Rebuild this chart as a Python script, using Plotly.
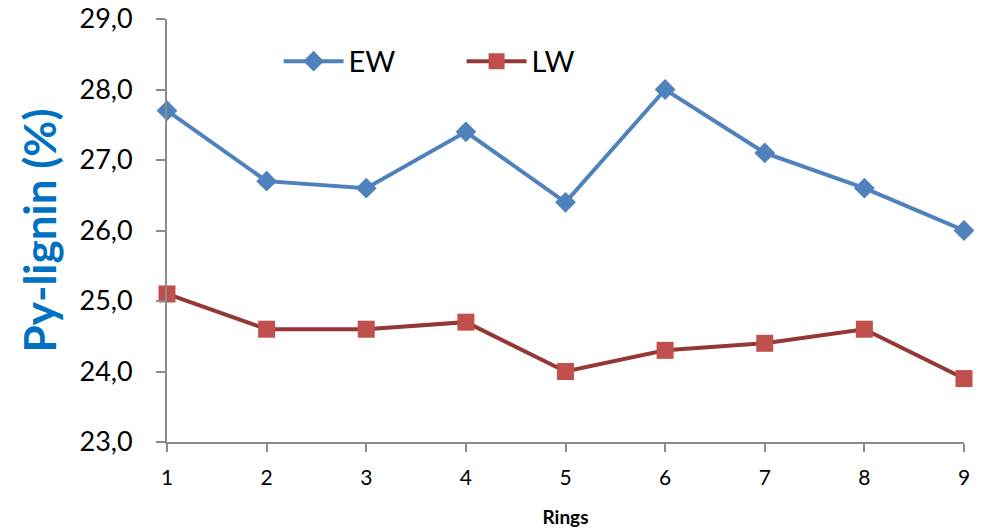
import plotly.graph_objects as go

rings = [1, 2, 3, 4, 5, 6, 7, 8, 9]
ew_values = [27.7, 26.7, 26.6, 27.4, 26.4, 28.0, 27.1, 26.6, 26.0]
lw_values = [25.1, 24.6, 24.6, 24.7, 24.0, 24.3, 24.4, 24.6, 23.9]
y_ticks = [23, 24, 25, 26, 27, 28, 29]
y_tick_labels = ["23,0", "24,0", "25,0", "26,0", "27,0", "28,0", "29,0"]

FONT = "Lato, 'Open Sans', sans-serif"

fig = go.Figure()
fig.add_trace(go.Scatter(
    x=rings, y=ew_values, name="EW", mode="lines+markers",
    line=dict(color="#4F81BD", width=4),
    marker=dict(symbol="diamond", size=16, color="#4F81BD"),
    cliponaxis=False,
))
fig.add_trace(go.Scatter(
    x=rings, y=lw_values, name="LW", mode="lines+markers",
    line=dict(color="#953735", width=4),
    marker=dict(symbol="square", size=17, color="#C0504D"),
    cliponaxis=False,
))

fig.update_layout(
    width=981, height=531,
    margin=dict(l=167, r=17, t=19, b=89, autoexpand=False),
    plot_bgcolor="white", paper_bgcolor="white",
    font=dict(family=FONT, color="black"),
    showlegend=True,
    legend=dict(
        orientation="h", x=0.14, y=0.9, xanchor="left", yanchor="middle",
        font=dict(size=29, family=FONT), bgcolor="rgba(0,0,0,0)",
        itemwidth=60, traceorder="normal",
        entrywidth=108,
    ),
    xaxis=dict(
        range=[1, 9], tickvals=rings, ticktext=[str(r) for r in rings],
        showgrid=False, zeroline=False, showline=True,
        linecolor="#8C8C8C", linewidth=2,
        ticks="outside", ticklen=8, tickcolor="#8C8C8C", tickwidth=2,
        tickfont=dict(size=21, family=FONT), ticklabelstandoff=8,
        title=dict(text="<b>Rings</b>", font=dict(size=19, family=FONT), standoff=22),
    ),
    yaxis=dict(
        range=[23, 29], tickvals=y_ticks, ticktext=y_tick_labels,
        showgrid=False, zeroline=False, showline=True,
        linecolor="#8C8C8C", linewidth=2,
        ticks="outside", ticklen=9, tickcolor="#8C8C8C", tickwidth=2,
        tickfont=dict(size=27, family=FONT), ticklabelstandoff=18,
        title=dict(text="<b>Py-lignin (%)</b>", font=dict(size=44, family=FONT, color="#0070C0"), standoff=9),
    ),
)

fig.write_html("out.html")
